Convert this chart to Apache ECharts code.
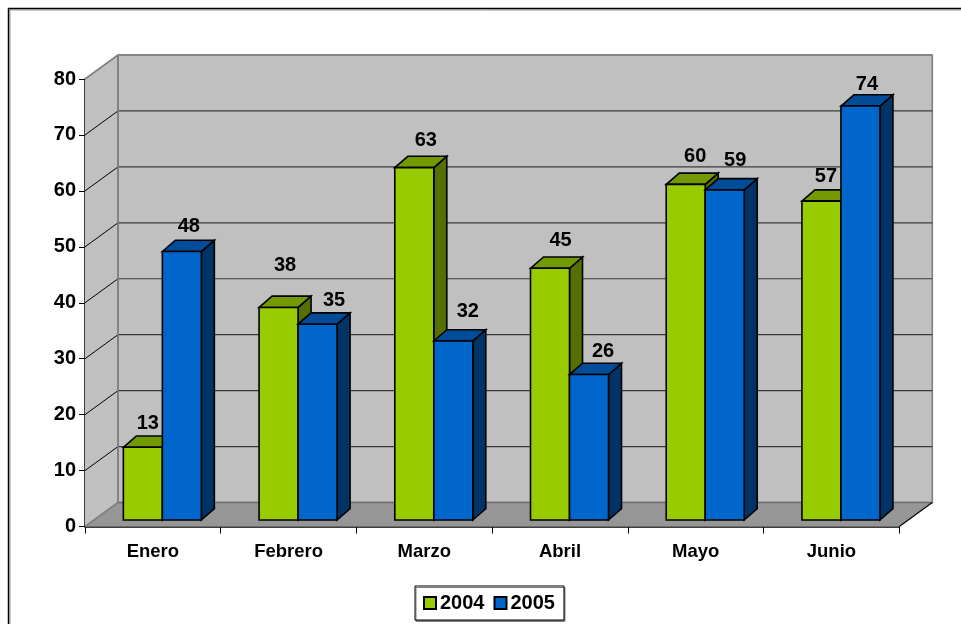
<!DOCTYPE html>
<html><head><meta charset="utf-8">
<style>html,body{margin:0;padding:0;background:#fff}#c{width:961px;height:624px}</style>
<script src="https://cdn.jsdelivr.net/npm/echarts@6/dist/echarts.min.js"></script>
</head><body><div id="c"></div>
<script>
const categories = ['Enero','Febrero','Marzo','Abril','Mayo','Junio'];
const values2004 = [13,38,63,45,60,57];
const values2005 = [48,35,32,26,59,74];
const yTicks = [0,10,20,30,40,50,60,70,80];
// hand-placed label offsets from each bar's top centre
const nudge2004 = [[5,-24],[6.5,-42],[11.5,-27],[10.5,-28],[9.5,-28],[4.5,-25]];
const nudge2005 = [[7,-25],[16.5,-24],[14.5,-30],[14,-23],[10.5,-29],[6.5,-22]];

const FONT = '"Liberation Sans", Arial, sans-serif';
const WALL_DX = 33, WALL_DY = -24;   // depth of the chart box
const BAR_DX = 9.5, BAR_DY = -6.5;   // front face of bars inside the box
const SIDE_DX = 13, SIDE_DY = -11.3; // depth of a bar
const BAR_W = 39;
const stroke = {stroke:'#000', lineWidth:1.6, lineJoin:'miter'};

function poly(points, fill, extra){
  return {type:'polygon', shape:{points}, style:Object.assign({fill}, stroke, extra||{})};
}
function renderBox(params, api){
  const g = params.coordSys;
  const x0 = g.x, x1 = g.x + g.width;
  const yB = api.coord([0,0])[1], yT = api.coord([0,80])[1];
  const d = {stroke:'#808080', lineWidth:1.6};
  const kids = [
    poly([[x0,yB],[x0+WALL_DX,yB+WALL_DY],[x0+WALL_DX,yT+WALL_DY],[x0,yT]],'#c0c0c0',{stroke:'none'}),
    poly([[x0+WALL_DX,yB+WALL_DY],[x1+WALL_DX,yB+WALL_DY],[x1+WALL_DX,yT+WALL_DY],[x0+WALL_DX,yT+WALL_DY]],'#c0c0c0',d),
    poly([[x0,yB],[x0+WALL_DX,yB+WALL_DY],[x1+WALL_DX,yB+WALL_DY],[x1,yB]],'#969696',{stroke:'none'}),
  ];
  yTicks.forEach(v=>{
    const y = api.coord([0,v])[1];
    if(v>0 && v<80){
      kids.push({type:'line',shape:{x1:x0,y1:y,x2:x0+WALL_DX,y2:y+WALL_DY},style:{stroke:'#000',lineWidth:1}});
      kids.push({type:'line',shape:{x1:x0+WALL_DX,y1:y+WALL_DY,x2:x1+WALL_DX,y2:y+WALL_DY},style:{stroke:'#3a3a3a',lineWidth:1.2}});
    }
  });
  kids.push({type:'line',shape:{x1:x0+WALL_DX,y1:yB+WALL_DY,x2:x1+WALL_DX,y2:yB+WALL_DY},style:{stroke:'#6e6e6e',lineWidth:1.6}});
  kids.push({type:'line',shape:{x1:x0+WALL_DX,y1:yT+WALL_DY,x2:x1+WALL_DX,y2:yT+WALL_DY},style:d});
  kids.push({type:'line',shape:{x1:x0+WALL_DX,y1:yB+WALL_DY,x2:x0+WALL_DX,y2:yT+WALL_DY},style:d});
  kids.push({type:'line',shape:{x1:x0,y1:yT,x2:x0+WALL_DX,y2:yT+WALL_DY},style:d});
  kids.push({type:'line',shape:{x1:x0,y1:yB,x2:x0+WALL_DX,y2:yB+WALL_DY},style:d});
  kids.push({type:'line',shape:{x1:x1,y1:yB,x2:x1+WALL_DX,y2:yB+WALL_DY},style:{stroke:'#000',lineWidth:1.2}});
  return {type:'group',children:kids};
}
function barRender(side, cFront, cTop, cSide){
  return function(params, api){
    const i = api.value(0), v = api.value(1);
    const base = api.coord([i,0]), top = api.coord([i,v]);
    const xl = base[0] + BAR_DX + (side<0 ? -BAR_W : 0), xr = xl + BAR_W;
    const yb = base[1] + BAR_DY, yt = top[1] + BAR_DY;
    return {type:'group',children:[
      poly([[xr,yb],[xr+SIDE_DX,yb+SIDE_DY],[xr+SIDE_DX,yt+SIDE_DY],[xr,yt]],cSide),
      poly([[xl,yt],[xl+SIDE_DX,yt+SIDE_DY],[xr+SIDE_DX,yt+SIDE_DY],[xr,yt]],cTop),
      poly([[xl,yb],[xr,yb],[xr,yt],[xl,yt]],cFront),
    ]};
  };
}
function labelRender(side, nudges){
  return function(params, api){
    const i = api.value(0), v = api.value(1);
    const base = api.coord([i,0]), top = api.coord([i,v]);
    const n = nudges[i];
    return {type:'text',style:{
      text:String(v), x:base[0]+BAR_DX+side*BAR_W/2+n[0], y:top[1]+BAR_DY+n[1],
      align:'center', verticalAlign:'middle', fill:'#000',
      font:'bold 20px '+FONT
    }};
  };
}
const toData = arr => arr.map((v,i)=>[i,v]);
const chart = echarts.init(document.getElementById('c'),null,{renderer:'canvas'});
chart.setOption({
  animation:false,
  backgroundColor:'#fff',
  grid:{left:85,top:79,width:814.3,height:447.5,containLabel:false},
  xAxis:{type:'category',data:categories,boundaryGap:true,
    axisLine:{lineStyle:{color:'#000',width:1.5}},
    axisTick:{show:true,alignWithLabel:false,length:7,lineStyle:{color:'#000',width:1}},
    axisLabel:{color:'#000',fontFamily:FONT,fontWeight:'bold',fontSize:18.5,margin:16,interval:0},
    splitLine:{show:false}},
  yAxis:{type:'value',min:0,max:80,interval:10,
    axisLine:{show:true,lineStyle:{color:'#000',width:1.5}},
    axisTick:{show:true,length:6,lineStyle:{color:'#000',width:1}},
    axisLabel:{color:'#000',fontFamily:FONT,fontWeight:'bold',fontSize:20,margin:9},
    splitLine:{show:false}},
  legend:{
    data:['2004','2005'],left:415,top:586,orient:'horizontal',
    itemWidth:12,itemHeight:12,itemGap:9,padding:[7,9,7,8],
    backgroundColor:'#fff',borderColor:'#000',borderWidth:1,
    shadowColor:'#808080',shadowBlur:0,shadowOffsetX:1,shadowOffsetY:1.5,
    icon:'rect',selectedMode:false,
    textStyle:{color:'#000',fontFamily:FONT,fontWeight:'bold',fontSize:20,padding:[0,0,0,-1]}
  },
  graphic:[
    {type:'polyline',silent:true,z:-5,shape:{points:[[10,624],[10,10],[961,10]]},style:{stroke:'#999',lineWidth:1,fill:'none'}},
    {type:'polyline',silent:true,z:-4,shape:{points:[[8.5,624],[8.5,8.5],[961,8.5]]},style:{stroke:'#000',lineWidth:1.5,fill:'none'}}
  ],
  series:[
    {type:'custom',name:'box',z:1,silent:true,renderItem:renderBox,data:[[0,0]],encode:{x:0,y:1}},
    {type:'custom',name:'2004',z:2,silent:true,renderItem:barRender(-1,'#99cc00','#739900','#566f00'),
      data:toData(values2004),encode:{x:0,y:1},itemStyle:{color:'#99cc00',borderColor:'#000',borderWidth:1.5}},
    {type:'custom',name:'2005',z:3,silent:true,renderItem:barRender(1,'#0066cc','#004c99','#003366'),
      data:toData(values2005),encode:{x:0,y:1},itemStyle:{color:'#0066cc',borderColor:'#000',borderWidth:1.5}},
    {type:'custom',name:'labels2004',z:4,silent:true,renderItem:labelRender(-1,nudge2004),data:toData(values2004),encode:{x:0,y:1}},
    {type:'custom',name:'labels2005',z:4,silent:true,renderItem:labelRender(1,nudge2005),data:toData(values2005),encode:{x:0,y:1}}
  ]
});
</script></body></html>
